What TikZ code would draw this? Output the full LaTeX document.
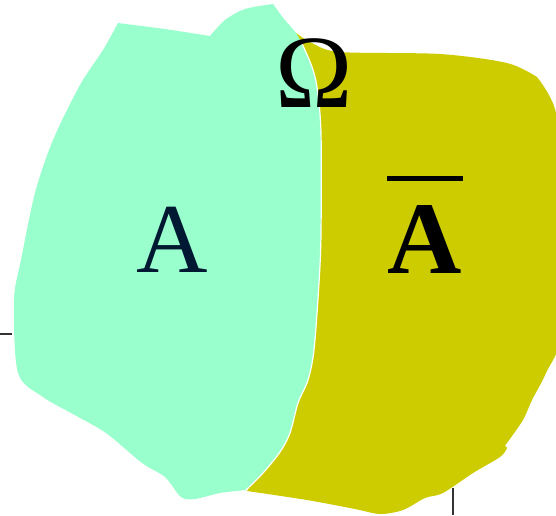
\documentclass[tikz,border=0pt]{standalone}
\usepackage{fontspec}
\setmainfont{Liberation Serif}
\definecolor{mint}{HTML}{99FFCC}
\definecolor{olivey}{HTML}{CCCC00}
\definecolor{navyA}{HTML}{001933}
\tikzset{
  bigtext/.style={anchor=base, inner sep=0pt, font=\fontsize{99}{100}\selectfont},
  tick/.style={line width=1.4pt, draw=black!80},
  divider/.style={draw=white, line width=1.2pt},
  barline/.style={line width=5pt}
}
\begin{document}
\begin{tikzpicture}[x=1pt,y=-1pt]
\useasboundingbox (0,0) rectangle (556,515);
\begin{scope}
\clip (0,0) rectangle (556,515);
% yellow region (complement)
\fill[olivey] plot[smooth, tension=0.5] coordinates {(296,33) (312,43) (340,52) (440,54) (507,63) (537,77)}
  -- plot[smooth, tension=0.5] coordinates {(537,77) (556,113) (562,200) (562,330) (546,373) (532,400) (523,420) (507,443) (505,446) (507,448) (500,457) (473,473) (443,493) (425,498) (403,510) (380,514) (355,509) (307,500) (247,491)}
  -- (260,470) -- (290,420) -- (310,300) -- (312,100) -- cycle;
% green region A
\fill[mint] plot[smooth, tension=0.5] coordinates {(273,4) (284,19) (296,33) (305,50) (312,67) (317,87) (321,133) (321,233) (319,283) (314,350) (308,380) (298,403) (290,433) (280,452) (263,473) (246,490)}
  -- plot[smooth, tension=0.5] coordinates {(246,490) (220,493) (195,499) (181,497) (165,477) (142,463) (106,433) (71,413) (43,397) (18,373) (14,300) (21,260) (35,193) (53,140) (80,85) (103,50) (118,23)}
  -- plot[smooth, tension=0.3] coordinates {(118,23) (165,29) (210,36)}
  -- plot[smooth, tension=0.5] coordinates {(210,36) (225,20) (245,9) (273,4)} -- cycle;
\draw[divider] plot[smooth, tension=0.5] coordinates {(302,44) (305,50) (312,67) (317,87) (321,133) (321,233) (319,283) (314,350) (308,380) (298,403) (290,433) (280,452) (263,473) (246,490)};
\end{scope}
% labels
\node[bigtext, font=\fontsize{104}{105}\selectfont] (omega) at (314,107) {Ω};
\node[bigtext, text=navyA] (a) at (172,272) {A};
\node[bigtext, font=\fontsize{103}{104}\selectfont] (abar) at (425,273) {\textbf{A}};
\coordinate (barL) at (387,178);
\coordinate (barR) at (463,178);
\draw[barline] (barL) -- (barR);
% ticks
\coordinate (t1a) at (0,334);
\coordinate (t1b) at (12,334);
\coordinate (t2a) at (453,488);
\coordinate (t2b) at (453,515);
\draw[tick] (t1a) -- (t1b);
\draw[tick] (t2a) -- (t2b);
\end{tikzpicture}
\end{document}
